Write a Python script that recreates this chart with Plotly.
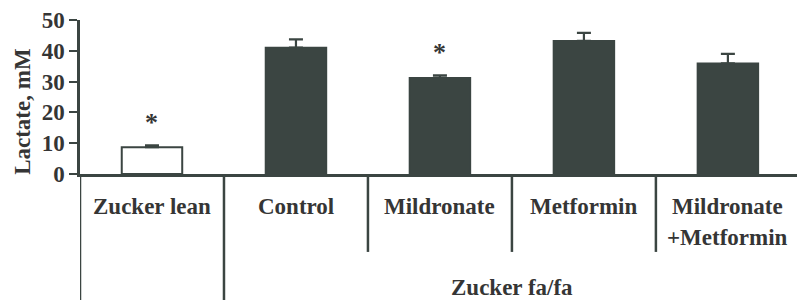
import plotly.graph_objects as go

categories = ["Zucker lean", "Control", "Mildronate", "Metformin", "Mildronate<br>+Metformin"]
lactate = [8.7, 41.0, 31.2, 43.2, 35.9]
errors = [0.6, 2.7, 0.8, 2.6, 3.1]
significant = [True, False, True, False, False]
group_label = "Zucker fa/fa"
y_title = "Lactate, mM"
y_ticks = [0, 10, 20, 30, 40, 50]

DARK = "#3b4542"
TEXT = "#353535"
FONT = "Liberation Serif"
FS = 23

xs = list(range(len(categories)))
fills = ["white"] + [DARK] * (len(categories) - 1)

fig = go.Figure()
fig.add_trace(go.Bar(
    x=xs, y=lactate, width=0.42,
    marker=dict(color=fills, line=dict(color=DARK, width=2)),
    error_y=dict(type="data", array=errors, arrayminus=[0] * len(errors), symmetric=False,
                 color=DARK, thickness=2.2, width=7),
    hoverinfo="skip",
))

annotations = []
for i, lab in enumerate(categories):
    for j, line in enumerate(lab.split("<br>")):
        annotations.append(dict(x=i, y=-0.214 - 0.2 * j, xref="x", yref="paper", text=line,
                                showarrow=False, yanchor="middle", xanchor="center",
                                font=dict(family=FONT, size=FS, color=TEXT, weight="bold")))
for i, s in enumerate(significant):
    if s:
        annotations.append(dict(x=i, y=lactate[i] + errors[i] + 7.5, xref="x", yref="y", text="*",
                                showarrow=False, yanchor="middle",
                                font=dict(family=FONT, size=26, color=TEXT, weight="bold")))
annotations.append(dict(x=(1 + len(categories) - 1) / 2, y=-0.734, xref="x", yref="paper",
                        text=group_label, showarrow=False, yanchor="middle",
                        font=dict(family=FONT, size=FS, color=TEXT, weight="bold")))
annotations.append(dict(x=-0.0795, y=0.41, xref="paper", yref="paper", text=y_title,
                        textangle=-90, showarrow=False, xanchor="center", yanchor="middle",
                        font=dict(family=FONT, size=FS, color=TEXT, weight="bold")))

shapes = []
for xb in [-0.5, 0.5]:
    shapes.append(dict(type="line", xref="x", yref="paper", x0=xb, x1=xb, y0=0, y1=-0.83,
                       line=dict(color=DARK, width=2.5)))
for i in range(1, len(categories) - 1):
    xb = i + 0.5
    shapes.append(dict(type="line", xref="x", yref="paper", x0=xb, x1=xb, y0=0, y1=-0.506,
                       line=dict(color=DARK, width=2.5)))

fig.update_layout(
    width=797, height=300,
    margin=dict(l=80, r=0, t=20, b=126),
    paper_bgcolor="white", plot_bgcolor="white",
    showlegend=False,
    annotations=annotations, shapes=shapes,
    font=dict(family=FONT, size=FS, color=TEXT, weight="bold"),
    xaxis=dict(range=[-0.5, 4.48], showticklabels=False, ticks="", showgrid=False,
               zeroline=False, showline=True, linecolor=DARK, linewidth=2.5),
    yaxis=dict(range=[0, 50], tickvals=y_ticks, ticks="outside", ticklen=8, tickwidth=2,
               tickcolor=DARK, showgrid=False, zeroline=False, showline=True,
               linecolor=DARK, linewidth=2.5,
               tickfont=dict(family=FONT, size=FS, color=TEXT, weight="bold")),
)

fig.write_html("out.html", config={"displayModeBar": False},
               post_script="document.body.style.margin='0';")
